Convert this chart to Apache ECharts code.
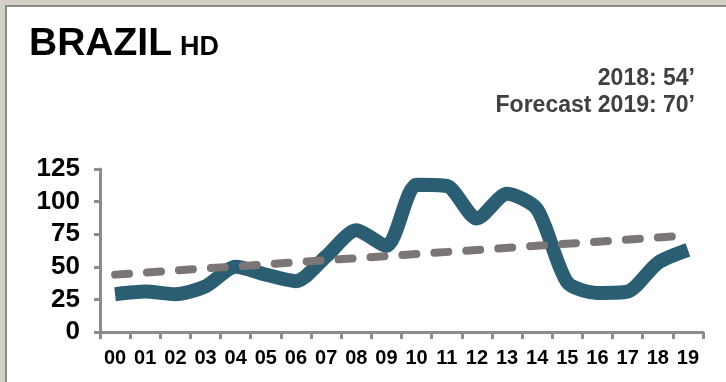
<!DOCTYPE html>
<html>
<head>
<meta charset="utf-8">
<script src="https://cdn.jsdelivr.net/npm/echarts@6/dist/echarts.min.js"></script>
<style>
  html, body { margin: 0; padding: 0; background: #d4d0c8; }
  #chart {
    position: absolute; left: 5px; top: 5px;
    width: 719px; height: 375px;
    border-left: 2px solid #8a8a8a; border-top: 2px solid #8a8a8a;
    background: #fff;
  }
</style>
</head>
<body>
<div id="chart"></div>
<script>
const years = ['00', '01', '02', '03', '04', '05', '06', '07', '08', '09',
  '10', '11', '12', '13', '14', '15', '16', '17', '18', '19']
const hours = [29, 31, 29, 35, 50, 44, 39, 58, 78, 66,
  113, 112, 87, 106, 94, 38, 30, 31, 53, 63]
// trend line, start and end
const trend = [['00', 44], ['19', 74]]
const yTicks = { min: 0, max: 125, interval: 25 }

const chart = echarts.init(document.getElementById('chart'))
const font = 'Liberation Sans, Arial, sans-serif'
const noteStyle = { fontFamily: font, fontWeight: 'bold', fontSize: 23, color: '#404040', lineHeight: 27 }

chart.setOption({
  animation: false,
  title: [{
    text: '{a|BRAZIL} {b|HD}',
    left: 17,
    top: 13,
    textStyle: {
      rich: {
        a: { fontFamily: font, fontWeight: 'bold', fontSize: 39, color: '#000' },
        b: { fontFamily: font, fontWeight: 'bold', fontSize: 27, color: '#000', verticalAlign: 'bottom', padding: [0, 0, 3, 3] }
      }
    }
  }, {
    text: '2018: 54’',
    right: 26,
    top: 53,
    textStyle: noteStyle
  }, {
    text: 'Forecast 2019: 70’',
    right: 26,
    top: 80,
    textStyle: noteStyle
  }],
  grid: { left: 93, right: 23, top: 162, bottom: 50 },
  xAxis: {
    type: 'category',
    data: years,
    boundaryGap: true,
    axisLine: { lineStyle: { color: '#8c8c8c', width: 3 } },
    axisTick: { show: true, length: 7, lineStyle: { color: '#8c8c8c', width: 3 } },
    axisLabel: {
      fontFamily: font, fontWeight: 'bold', fontSize: 20, color: '#000',
      margin: 16, interval: 0
    }
  },
  yAxis: {
    type: 'value',
    min: yTicks.min,
    max: yTicks.max,
    interval: yTicks.interval,
    splitLine: { show: false },
    axisLine: { show: true, lineStyle: { color: '#8c8c8c', width: 3 } },
    axisTick: { show: true, length: 6, lineStyle: { color: '#8c8c8c', width: 3 } },
    axisLabel: {
      fontFamily: font, fontWeight: 'bold', fontSize: 26, color: '#000',
      margin: 20
    }
  },
  series: [{
    name: 'Hours',
    type: 'line',
    data: hours,
    smooth: 0.25,
    symbol: 'none',
    lineStyle: { color: '#2b5e72', width: 14, cap: 'butt', join: 'round' },
    z: 2
  }, {
    name: 'Trend',
    type: 'line',
    data: trend,
    symbol: 'none',
    lineStyle: { color: '#7b7675', width: 8, type: [14, 18], cap: 'round' },
    z: 3
  }]
})
</script>
</body>
</html>
